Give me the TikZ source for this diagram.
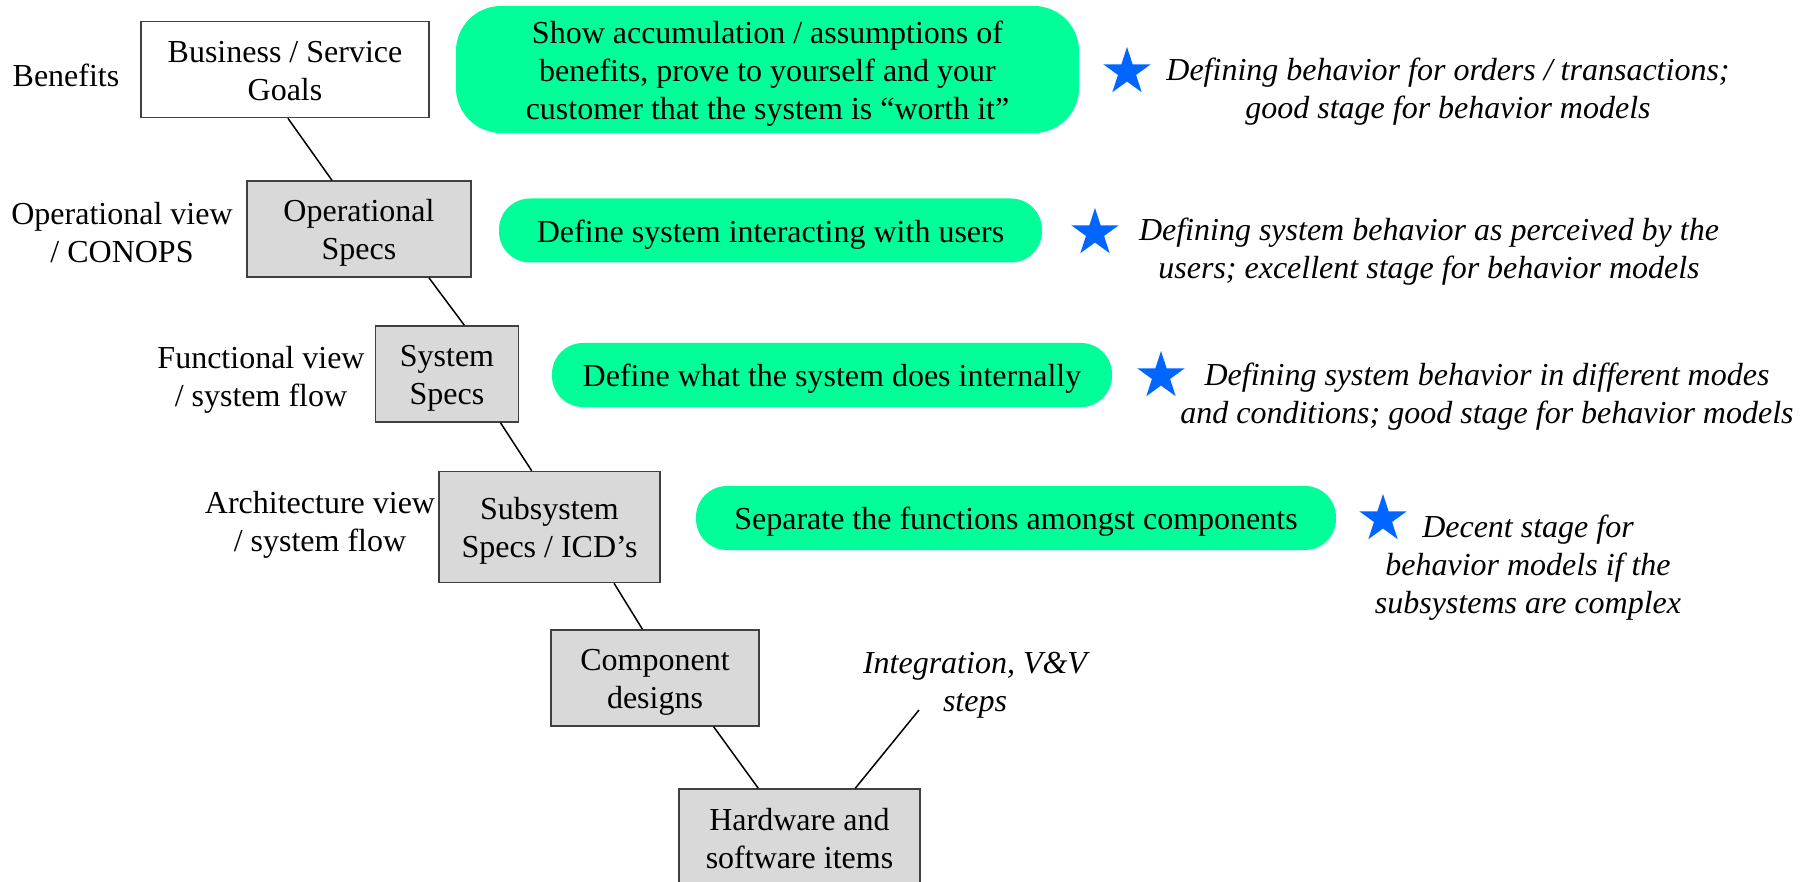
\documentclass[tikz,border=0pt]{standalone}
\usepackage{fontspec}
\setmainfont{Liberation Serif}
\usetikzlibrary{shapes.geometric,calc}
\definecolor{mint}{RGB}{0,255,153}
\definecolor{starblue}{RGB}{0,102,255}
\definecolor{specgray}{RGB}{217,217,217}
\definecolor{edgegray}{RGB}{64,64,64}
% line box as tall as a full text line
\newcommand{\lstrut}{\rule[-6pt]{0pt}{36pt}}

\begin{document}
\begin{tikzpicture}[x=1pt,y=-1pt]
        \fontsize{32}{38}\selectfont
        \tikzset{spec/.style={align=center, draw=edgegray, line width=1.5pt, fill=specgray,
                inner sep=0pt, minimum height=96pt},
            note/.style={align=center, fill=mint, rounded corners=31pt,
                inner sep=0pt, minimum height=64pt},
            hint/.style={align=center, font=\itshape},
            view/.style={align=center},
            bluestar/.style={star, star points=5, star point ratio=2.618,
                fill=starblue, inner sep=0pt, minimum size=50pt},
            link/.style={line width=1.5pt}}
        \useasboundingbox (0,0) rectangle (1812,882);
        % spec levels, top to bottom
        \node[spec, fill=white, minimum width=288pt] (goals) at (285,69.5) {\lstrut Business / Service\\Goals\lstrut};
        \node[spec, minimum width=224pt] (ops) at (359,229) {\lstrut Operational\\Specs\lstrut};
        \node[spec, minimum width=143pt] (sys) at (447,374) {\lstrut System\\Specs\lstrut};
        \node[spec, minimum width=221pt, minimum height=111pt] (sub) at (549.5,527) {\lstrut Subsystem\\Specs / ICD's\lstrut};
        \node[spec, minimum width=208pt] (comp) at (655,678) {\lstrut Component\\designs\lstrut};
        \node[spec, minimum width=241pt] (items) at (799.5,837) {\lstrut Hardware and\\software items\lstrut};
        % views on the left
        \node[view] (benefits) at (66,75) {\lstrut Benefits\lstrut};
        \node[view] (opsview) at (122,232) {\lstrut Operational view\\/ CONOPS\lstrut};
        \node[view] (funcview) at (261,376) {\lstrut Functional view\\/ system flow\lstrut};
        \node[view] (archview) at (320,521) {\lstrut Architecture view\\/ system flow\lstrut};
        % what each level is for
        \node[note, minimum width=623pt, minimum height=127pt, rounded corners=45pt] (worth) at (767.5,69.5)
            {\lstrut Show accumulation / assumptions of\\benefits, prove to yourself and your\\customer that the system is ``worth it''\lstrut};
        \node[note, minimum width=543pt] (users) at (770.5,230.5) {\lstrut Define system interacting with users\lstrut};
        \node[note, minimum width=560pt] (inside) at (832,375) {\lstrut Define what the system does internally\lstrut};
        \node[note, minimum width=640pt] (split) at (1016,518) {\lstrut Separate the functions amongst components\lstrut};
        % behavior model remarks
        \node[bluestar] (s1) at (1127,72) {};
        \node[bluestar] (s2) at (1095,233) {};
        \node[bluestar] (s3) at (1161,376) {};
        \node[bluestar] (s4) at (1383,519) {};
        \node[hint] (h1) at (1448,88) {\lstrut Defining behavior for orders / transactions;\\good stage for behavior models\lstrut};
        \node[hint] (h2) at (1429,248) {\lstrut Defining system behavior as perceived by the\\users; excellent stage for behavior models\lstrut};
        \node[hint] (h3) at (1487,393) {\lstrut Defining system behavior in different modes\\and conditions; good stage for behavior models\lstrut};
        \node[hint] (h4) at (1528,564) {\lstrut Decent stage for\\behavior models if the\\subsystems are complex\lstrut};
        \draw[link] ($(goals.south west)!0.51!(goals.south east)$) -- ($(ops.north west)!0.38!(ops.north east)$);
        \draw[link] ($(ops.south west)!0.81!(ops.south east)$) -- ($(sys.north west)!0.62!(sys.north east)$);
        \draw[link] ($(sys.south west)!0.87!(sys.south east)$) -- ($(sub.north west)!0.42!(sub.north east)$);
        \draw[link] ($(sub.south west)!0.79!(sub.south east)$) -- ($(comp.north west)!0.44!(comp.north east)$);
        \draw[link] ($(comp.south west)!0.78!(comp.south east)$) -- ($(items.north west)!0.33!(items.north east)$);
        % going back up
        \coordinate (vvend) at (919,710);
        \node[hint] (vv) at (975,681) {\lstrut Integration, V\&V\\steps\lstrut};
        \draw[link] ($(items.north west)!0.73!(items.north east)$) -- (vvend);
    \end{tikzpicture}
\end{document}
